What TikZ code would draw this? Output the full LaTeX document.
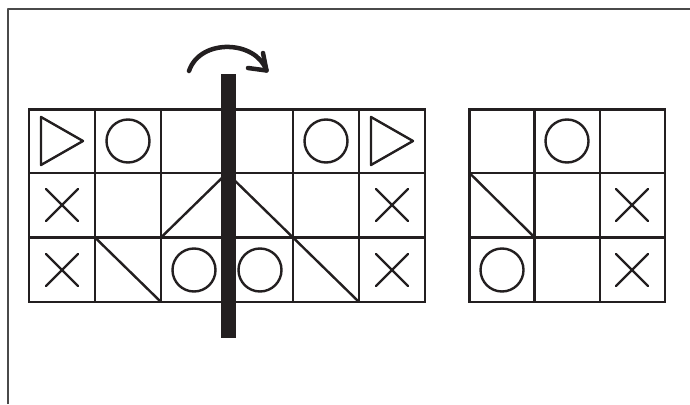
\documentclass[tikz,border=0pt]{standalone}
\begin{document}
\begin{tikzpicture}[x=1pt,y=-1pt,line join=round]
\definecolor{ink}{HTML}{231F20}
\definecolor{framec}{HTML}{4A4A4A}
\tikzset{
  gridline/.style={draw=ink,line width=2.6pt,line cap=rect},
  sym/.style={draw=ink,line width=2.4pt,line cap=round},
  ocirc/.pic={\draw[sym] (0,0) circle (21.5);},
  xmark/.pic={\draw[sym] (-16,-16) -- (16,16) (-16,16) -- (16,-16);},
  tri/.pic={\draw[sym,line cap=butt] (-21,-24) -- (-21,24) -- (21,0) -- cycle;}
}
\useasboundingbox (0,0) rectangle (690,404);
% frame
\draw[framec,line width=2pt] (7.5,404) -- (7.5,9.5) -- (690,9.5);
% left grid
\foreach \x in {29,95,161,227,293,359,425}
  \draw[gridline] (\x,109.5) -- (\x,302);
\foreach \y in {109.5,173,237.5,302}
  \draw[gridline] (29,\y) -- (425,\y);
% right grid
\foreach \x in {469.5,534.7,599.8,665}
  \draw[gridline] (\x,109.5) -- (\x,302);
\foreach \y in {109.5,173,237.5,302}
  \draw[gridline] (469.5,\y) -- (665,\y);
% left grid symbols
\pic at (62,141) {tri};
\pic at (128,141) {ocirc};
\pic at (326,141) {ocirc};
\pic at (392,141) {tri};
\pic at (62,205) {xmark};
\draw[sym] (161,237.5) -- (227,173);
\draw[sym] (227,173) -- (293,237.5);
\pic at (392,205) {xmark};
\pic at (62,270) {xmark};
\draw[sym] (95,237.5) -- (161,302);
\pic at (194,270) {ocirc};
\pic at (260,270) {ocirc};
\draw[sym] (293,237.5) -- (359,302);
\pic at (392,270) {xmark};
% right grid symbols
\pic at (567,141) {ocirc};
\draw[sym] (469.5,173) -- (534.7,237.5);
\pic at (632,205) {xmark};
\pic at (502,270) {ocirc};
\pic at (632,270) {xmark};
% bar
\fill[ink] (221,74) rectangle (236,338);
% turn arrow
\coordinate (as) at (189,71);
\coordinate (tip) at (266.5,70.5);
\draw[ink,line width=4.5pt,line cap=round] (as) .. controls (200,38) and (256,40) .. (tip);
\draw[ink,line width=4.5pt,line cap=round] (263,53) -- (tip) -- (248,68);
\end{tikzpicture}
\end{document}
